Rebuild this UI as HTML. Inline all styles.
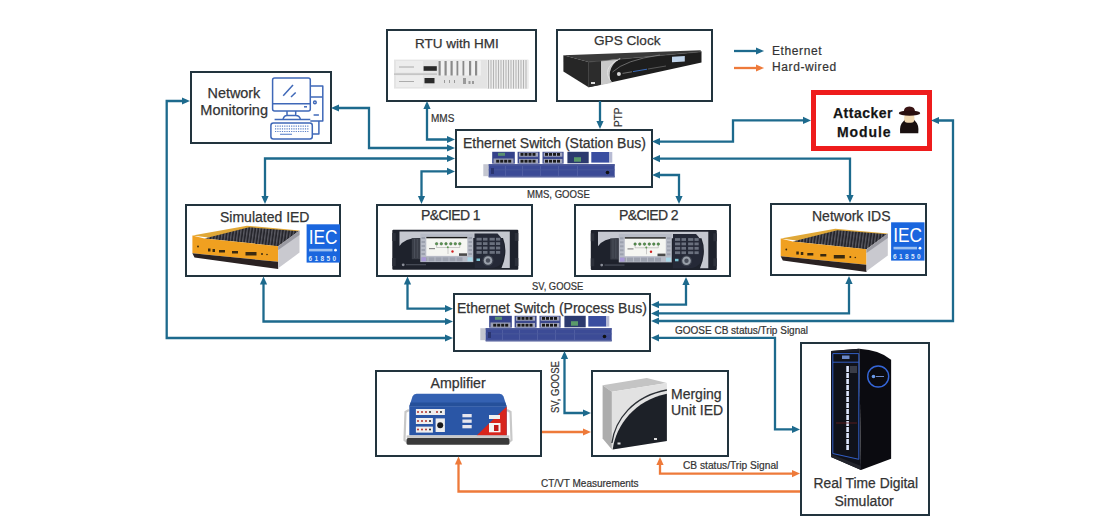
<!DOCTYPE html>
<html><head><meta charset="utf-8">
<style>
html,body{margin:0;padding:0;background:#fff;}
body{width:1100px;height:530px;position:relative;overflow:hidden;font-family:"Liberation Sans",sans-serif;color:#333;}
.box{position:absolute;box-sizing:border-box;border:2px solid #22343e;background:#fff;}
.t{position:absolute;white-space:nowrap;font-size:14px;line-height:1;color:#333;-webkit-text-stroke:0.25px #333;}
.s{position:absolute;white-space:nowrap;font-size:10px;line-height:1;color:#333;-webkit-text-stroke:0.2px #333;}
svg.ov{position:absolute;left:0;top:0;}
</style></head><body><div id="wrap" style="position:absolute;left:0;top:0;width:1100px;height:530px;">

<!-- boxes -->
<div class="box" style="left:190px;top:71px;width:142px;height:73px;"></div>
<div class="box" style="left:386px;top:29px;width:151px;height:73px;"></div>
<div class="box" style="left:556px;top:29px;width:157px;height:73px;"></div>
<div class="box" style="left:811px;top:90px;width:121px;height:61px;border:5px solid #ee1c1c;"></div>
<div class="box" style="left:455px;top:129px;width:198px;height:59px;"></div>
<div class="box" style="left:185px;top:204px;width:156px;height:73px;"></div>
<div class="box" style="left:376px;top:204px;width:157px;height:73px;"></div>
<div class="box" style="left:574px;top:204px;width:157px;height:73px;"></div>
<div class="box" style="left:770px;top:203px;width:157px;height:73px;"></div>
<div class="box" style="left:452.5px;top:292.5px;width:198.5px;height:59px;"></div>
<div class="box" style="left:375px;top:369.5px;width:167px;height:87.5px;"></div>
<div class="box" style="left:591px;top:369.5px;width:138px;height:87.5px;"></div>
<div class="box" style="left:800px;top:342px;width:130px;height:174px;"></div>

<svg class="ov" width="1100" height="530" viewBox="0 0 1100 530">
<g id="arrows">
<path d="M183.00,101.00 L166.70,101.00 L166.70,338.00 L446.00,338.00" fill="none" stroke="#1d6a8d" stroke-width="2.3"/>
<polygon points="190.00,101.00 182.00,104.60 182.00,97.40" fill="#1d6a8d"/>
<polygon points="453.00,338.00 445.00,341.60 445.00,334.40" fill="#1d6a8d"/>
<path d="M338.00,108.00 L369.00,108.00 L369.00,148.00 L448.00,148.00" fill="none" stroke="#1d6a8d" stroke-width="2.3"/>
<polygon points="331.00,108.00 339.00,104.40 339.00,111.60" fill="#1d6a8d"/>
<polygon points="455.00,148.00 447.00,151.60 447.00,144.40" fill="#1d6a8d"/>
<path d="M427.00,108.00 L427.00,139.50 L448.00,139.50" fill="none" stroke="#1d6a8d" stroke-width="2.3"/>
<polygon points="427.00,101.00 430.60,109.00 423.40,109.00" fill="#1d6a8d"/>
<polygon points="455.00,139.50 447.00,143.10 447.00,135.90" fill="#1d6a8d"/>
<path d="M265.00,197.00 L265.00,158.50 L448.00,158.50" fill="none" stroke="#1d6a8d" stroke-width="2.3"/>
<polygon points="265.00,204.00 261.40,196.00 268.60,196.00" fill="#1d6a8d"/>
<polygon points="455.00,158.50 447.00,162.10 447.00,154.90" fill="#1d6a8d"/>
<path d="M421.50,197.00 L421.50,171.40 L448.00,171.40" fill="none" stroke="#1d6a8d" stroke-width="2.3"/>
<polygon points="421.50,204.00 417.90,196.00 425.10,196.00" fill="#1d6a8d"/>
<polygon points="455.00,171.40 447.00,175.00 447.00,167.80" fill="#1d6a8d"/>
<path d="M600.00,101.00 L600.00,122.00" fill="none" stroke="#1d6a8d" stroke-width="2.3"/>
<polygon points="600.00,129.00 596.40,121.00 603.60,121.00" fill="#1d6a8d"/>
<path d="M659.00,141.60 L733.00,141.60 L733.00,120.40 L804.00,120.40" fill="none" stroke="#1d6a8d" stroke-width="2.3"/>
<polygon points="652.00,141.60 660.00,138.00 660.00,145.20" fill="#1d6a8d"/>
<polygon points="811.00,120.40 803.00,124.00 803.00,116.80" fill="#1d6a8d"/>
<path d="M659.00,158.60 L850.00,158.60 L850.00,196.00" fill="none" stroke="#1d6a8d" stroke-width="2.3"/>
<polygon points="652.00,158.60 660.00,155.00 660.00,162.20" fill="#1d6a8d"/>
<polygon points="850.00,203.00 846.40,195.00 853.60,195.00" fill="#1d6a8d"/>
<path d="M659.00,175.00 L679.00,175.00 L679.00,197.00" fill="none" stroke="#1d6a8d" stroke-width="2.3"/>
<polygon points="652.00,175.00 660.00,171.40 660.00,178.60" fill="#1d6a8d"/>
<polygon points="679.00,204.00 675.40,196.00 682.60,196.00" fill="#1d6a8d"/>
<path d="M263.50,283.50 L263.50,321.50 L446.00,321.50" fill="none" stroke="#1d6a8d" stroke-width="2.3"/>
<polygon points="263.50,276.50 267.10,284.50 259.90,284.50" fill="#1d6a8d"/>
<polygon points="453.00,321.50 445.00,325.10 445.00,317.90" fill="#1d6a8d"/>
<path d="M407.50,283.50 L407.50,308.70 L446.00,308.70" fill="none" stroke="#1d6a8d" stroke-width="2.3"/>
<polygon points="407.50,276.50 411.10,284.50 403.90,284.50" fill="#1d6a8d"/>
<polygon points="453.00,308.70 445.00,312.30 445.00,305.10" fill="#1d6a8d"/>
<path d="M686.00,284.00 L686.00,304.70 L658.00,304.70" fill="none" stroke="#1d6a8d" stroke-width="2.3"/>
<polygon points="686.00,277.00 689.60,285.00 682.40,285.00" fill="#1d6a8d"/>
<polygon points="651.00,304.70 659.00,301.10 659.00,308.30" fill="#1d6a8d"/>
<path d="M849.00,283.00 L849.00,313.40 L658.00,313.40" fill="none" stroke="#1d6a8d" stroke-width="2.3"/>
<polygon points="849.00,276.00 852.60,284.00 845.40,284.00" fill="#1d6a8d"/>
<polygon points="651.00,313.40 659.00,309.80 659.00,317.00" fill="#1d6a8d"/>
<path d="M938.00,120.50 L953.00,120.50 L953.00,321.00 L658.00,321.00" fill="none" stroke="#1d6a8d" stroke-width="2.3"/>
<polygon points="931.00,120.50 939.00,116.90 939.00,124.10" fill="#1d6a8d"/>
<polygon points="651.00,321.00 659.00,317.40 659.00,324.60" fill="#1d6a8d"/>
<path d="M658.00,337.80 L775.00,337.80 L775.00,429.40 L793.00,429.40" fill="none" stroke="#1d6a8d" stroke-width="2.3"/>
<polygon points="651.00,337.80 659.00,334.20 659.00,341.40" fill="#1d6a8d"/>
<polygon points="800.00,429.40 792.00,433.00 792.00,425.80" fill="#1d6a8d"/>
<path d="M564.50,358.00 L564.50,413.00 L584.00,413.00" fill="none" stroke="#1d6a8d" stroke-width="2.3"/>
<polygon points="564.50,351.00 568.10,359.00 560.90,359.00" fill="#1d6a8d"/>
<polygon points="591.00,413.00 583.00,416.60 583.00,409.40" fill="#1d6a8d"/>
<path d="M734.00,51.00 L757.00,51.00" fill="none" stroke="#1d6a8d" stroke-width="2.3"/>
<polygon points="764.00,51.00 756.00,54.60 756.00,47.40" fill="#1d6a8d"/>
<path d="M542.00,432.00 L584.00,432.00" fill="none" stroke="#ee7a3a" stroke-width="2.3"/>
<polygon points="591.00,432.00 583.00,435.60 583.00,428.40" fill="#ee7a3a"/>
<path d="M800.00,491.50 L458.50,491.50 L458.50,463.50" fill="none" stroke="#ee7a3a" stroke-width="2.3"/>
<polygon points="458.50,456.50 462.10,464.50 454.90,464.50" fill="#ee7a3a"/>
<path d="M660.00,464.00 L660.00,473.60 L793.00,473.60" fill="none" stroke="#ee7a3a" stroke-width="2.3"/>
<polygon points="660.00,457.00 663.60,465.00 656.40,465.00" fill="#ee7a3a"/>
<polygon points="800.00,473.60 792.00,477.20 792.00,470.00" fill="#ee7a3a"/>
<path d="M734.00,68.00 L757.00,68.00" fill="none" stroke="#ee7a3a" stroke-width="2.3"/>
<polygon points="764.00,68.00 756.00,71.60 756.00,64.40" fill="#ee7a3a"/>
</g>
</svg>


<svg class="ov" width="1100" height="530" viewBox="0 0 1100 530">
<!-- Computer icon -->
<g fill="none" stroke="#3f68b8" stroke-width="1.5" stroke-linejoin="round">
<rect x="272.6" y="78" width="37.7" height="33" rx="2"/>
<line x1="272.6" y1="103.7" x2="310.3" y2="103.7"/>
<line x1="304" y1="106.8" x2="307" y2="106.8"/>
<line x1="293" y1="85" x2="283.2" y2="95.8"/>
<line x1="295.7" y1="92.5" x2="291" y2="97"/>
<path d="M287,111 V115.6 H295.7 V111 M283,119.5 Q284,115.6 287,115.6 M295.7,115.6 Q299.5,115.6 300.4,119.5"/>
<line x1="274.6" y1="119.5" x2="310.3" y2="119.5"/>
<path d="M310.3,85.9 H322.8 V120.9 H310.3"/>
<line x1="310.3" y1="97" x2="322.8" y2="97"/>
<circle cx="314.9" cy="102.4" r="1.3"/>
<line x1="313.6" y1="115" x2="318.9" y2="115"/>
<path d="M318.9,120.9 V134 H312.3"/>
<rect x="270.9" y="122.9" width="41.4" height="16.1" rx="2.5"/>
</g>
<g stroke="#5a80c8" stroke-width="1.2" stroke-dasharray="1.2 1.1">
<line x1="275" y1="126.2" x2="309" y2="126.2"/>
<line x1="275" y1="128.9" x2="309" y2="128.9"/>
<line x1="275" y1="131.5" x2="309" y2="131.5"/>
</g>
<line x1="280" y1="134.3" x2="292" y2="134.3" stroke="#6d8fd0" stroke-width="1.2"/>

<!-- RTU -->
<rect x="394" y="59.6" width="134.4" height="29" fill="#e4e4e4"/>
<rect x="394" y="73.5" width="43" height="1.2" fill="#b8b8b8"/>
<rect x="396" y="61" width="27" height="11.5" fill="#ededed"/>
<rect x="396" y="75.5" width="27" height="11.5" fill="#ededed"/>
<line x1="399" y1="67" x2="414" y2="67" stroke="#9a9a9a" stroke-width="0.8"/>
<line x1="399" y1="81.5" x2="414" y2="81.5" stroke="#9a9a9a" stroke-width="0.8"/>
<rect x="423.6" y="66.2" width="13.2" height="4.6" fill="#2a2a2a"/>
<rect x="424.5" y="78" width="10" height="5.3" fill="#2a2a2a"/>
<rect x="438" y="60.5" width="43" height="15" fill="#f0f0f0"/>
<g fill="#8a8a8a">
<rect x="438.5" y="61" width="2.2" height="14.5"/><rect x="444.5" y="61" width="2.2" height="14.5"/><rect x="450.5" y="61" width="2.2" height="14.5"/><rect x="456.5" y="61" width="1.8" height="14.5"/><rect x="462.5" y="61" width="1.8" height="14.5"/><rect x="469" y="61" width="2.2" height="14.5"/><rect x="475" y="61" width="2.2" height="14.5"/>
</g>
<g fill="#9a9a9a"><rect x="463" y="78" width="3" height="6"/><rect x="468.5" y="81" width="2" height="3"/><rect x="472" y="81" width="2" height="3"/><rect x="444" y="80" width="1" height="3"/><rect x="449" y="80" width="1" height="3"/><rect x="454" y="80" width="1" height="3"/></g>
<rect x="487" y="60" width="41.4" height="28.6" fill="#ececec"/>
<g fill="#b4b4b4">
<rect x="488" y="60" width="1" height="28.6"/><rect x="490.5" y="60" width="1" height="28.6"/><rect x="493" y="60" width="1" height="28.6"/><rect x="495.5" y="60" width="1" height="28.6"/><rect x="498" y="60" width="1" height="28.6"/><rect x="500.5" y="60" width="1" height="28.6"/><rect x="503" y="60" width="1" height="28.6"/><rect x="505.5" y="60" width="1" height="28.6"/><rect x="508" y="60" width="1" height="28.6"/><rect x="510.5" y="60" width="1" height="28.6"/><rect x="513" y="60" width="1" height="28.6"/><rect x="515.5" y="60" width="1" height="28.6"/><rect x="518" y="60" width="1" height="28.6"/><rect x="520.5" y="60" width="1" height="28.6"/><rect x="523" y="60" width="1" height="28.6"/><rect x="525.5" y="60" width="1" height="28.6"/>
</g>

<!-- GPS clock -->
<polygon points="563.4,55.2 700.5,50.2 701.5,51.8 588.6,62" fill="#3a3a3a"/>
<polygon points="563.4,55.2 588.6,62 588.6,87.3 563.4,71.6" fill="#262626"/>
<polygon points="588.6,62 701.5,51.8 701.5,62.5 588.6,87.3" fill="#1e1e1e"/>
<polygon points="588.6,62 600.5,60.5 600.5,85 588.6,87.3" fill="#2c2c2c"/>
<path d="M601,61 L621,58.5 Q606,66 611,83 L601,85 Z" fill="#c9c9c9"/>
<path d="M620,58.7 Q600,68 612,83" fill="none" stroke="#e0e0e0" stroke-width="1"/>
<rect x="672" y="56.7" width="12.8" height="5.5" fill="#c0d4ea" transform="skewY(-3)" transform-origin="672 56.7"/>
<rect x="591" y="82" width="4" height="2" fill="#ddd"/>
<line x1="588.6" y1="62" x2="701.5" y2="51.8" stroke="#5a5a5a" stroke-width="0.6"/>
<path d="M612.5,72 Q625,60 660,55" fill="none" stroke="#8a8a8a" stroke-width="0.7"/>
<circle cx="618.9" cy="74.1" r="2" fill="#d8d8d8"/>
<line x1="622.5" y1="73.4" x2="632" y2="71.8" stroke="#777" stroke-width="0.9"/><line x1="633" y1="71.6" x2="647" y2="69.2" stroke="#3a6ab8" stroke-width="1"/><line x1="648" y1="69" x2="666" y2="66" stroke="#666" stroke-width="0.8"/>

<!-- Station bus switch -->
<defs>
<g id="sw">
<rect x="483.3" y="164.2" width="5.5" height="12" fill="#c4c6d0"/>
<rect x="488.7" y="164.2" width="126" height="13.1" fill="#3c4b96"/>
<g fill="#5866a8"><rect x="505" y="166" width="0.7" height="10"/><rect x="522" y="166" width="0.7" height="10"/><rect x="540" y="166" width="0.7" height="10"/><rect x="558" y="166" width="0.7" height="10"/><rect x="577" y="166" width="0.7" height="10"/></g>
<rect x="488.7" y="164.2" width="126" height="1.5" fill="#4a5898"/>
<rect x="488.7" y="169.5" width="126" height="0.8" fill="#4a5a9a"/>
<rect x="488.7" y="175.8" width="126" height="1.5" fill="#5a66a0"/>
<rect x="491" y="168" width="3" height="6" fill="#2a3570"/>
<circle cx="607.5" cy="172.5" r="1.8" fill="#111"/>
<rect x="492.2" y="151.8" width="22.6" height="11.8" fill="#34428a"/>
<rect x="498" y="152.8" width="7" height="3" fill="#5a9070"/>
<rect x="493.5" y="158.5" width="20" height="5" fill="#9a9eb4"/>
<rect x="517.6" y="151.8" width="22" height="11.8" fill="#3d4a8e"/><rect x="519" y="152.5" width="19" height="4.2" fill="#a4a8bc"/><rect x="519" y="159" width="19" height="4.2" fill="#a4a8bc"/>
<rect x="542.5" y="151.8" width="21.1" height="11.8" fill="#3d4a8e"/><rect x="543.7" y="152.5" width="18.7" height="4.2" fill="#a4a8bc"/><rect x="543.7" y="159" width="18.7" height="4.2" fill="#a4a8bc"/>
<g fill="#1a1a1a">
<rect x="496.2" y="159.8" width="3" height="2.8"/><rect x="500.2" y="159.8" width="3" height="2.8"/><rect x="504.2" y="159.8" width="3" height="2.8"/><rect x="508.2" y="159.8" width="3" height="2.8"/>
<rect x="520.5" y="153" width="3" height="2.8"/><rect x="524.5" y="153" width="3" height="2.8"/><rect x="528.5" y="153" width="3" height="2.8"/><rect x="532.5" y="153" width="3" height="2.8"/>
<rect x="520.5" y="159.8" width="3" height="2.8"/><rect x="524.5" y="159.8" width="3" height="2.8"/><rect x="528.5" y="159.8" width="3" height="2.8"/><rect x="532.5" y="159.8" width="3" height="2.8"/>
<rect x="545" y="153" width="3" height="2.8"/><rect x="549" y="153" width="3" height="2.8"/><rect x="553" y="153" width="3" height="2.8"/><rect x="557" y="153" width="3" height="2.8"/>
<rect x="545" y="159.8" width="3" height="2.8"/><rect x="549" y="159.8" width="3" height="2.8"/><rect x="553" y="159.8" width="3" height="2.8"/><rect x="557" y="159.8" width="3" height="2.8"/>
</g>
<rect x="567.4" y="151.8" width="21.3" height="11.5" fill="#2c3a6e"/>
<rect x="574" y="157.2" width="7" height="4.5" fill="#5a9a6a"/>
<rect x="591.3" y="152" width="18.1" height="10.6" fill="#3a4ea0"/>
<rect x="609.4" y="152" width="2.9" height="10.6" fill="#b8bcd4"/>
</g>
</defs>
<use href="#sw"/>
<use href="#sw" transform="translate(-3,164)"/>
</svg>

<svg class="ov" width="1100" height="530" viewBox="0 0 1100 530">
<defs>
<linearGradient id="fins" x1="0" y1="0" x2="1" y2="0"><stop offset="0" stop-color="#2b2b30"/><stop offset="1" stop-color="#45454c"/></linearGradient>
<pattern id="finp" width="3.1" height="10" patternUnits="userSpaceOnUse" patternTransform="skewX(-8)"><rect width="3.1" height="10" fill="#26262c"/><rect width="1.3" height="10" fill="#5a5a62"/></pattern>
</defs>
<!-- Simulated IED orange box -->
<g id="obox">
<polygon points="192.4,235.6 247,225.7 299.5,230.6 278.2,246.2" fill="#e0a838"/>
<polygon points="204.4,238.4 249,227.3 299.5,231.2 278.2,246.2" fill="url(#finp)"/>
<polygon points="192.4,235.6 204.4,238.4 278.2,246.2 278.2,261.8 192.4,253.3" fill="#f0a020"/>
<polygon points="192.4,253.3 278.2,261.8 278.2,269 194.5,257.6" fill="#2a2222"/>
<polygon points="278.2,246.2 299.5,230.6 299.5,252.6 278.2,268.2" fill="#c9c9cf"/>
<polygon points="278.2,246.2 299.5,230.6 299.5,235 278.2,250" fill="#9a9aa2"/>
<g fill="#3a2a10">
<rect x="208" y="248.5" width="2.5" height="3"/><rect x="212.5" y="249" width="2.5" height="3"/>
<rect x="219" y="250" width="6" height="2.5"/><rect x="232" y="251" width="6" height="2.5"/>
<rect x="245.5" y="252" width="11" height="3.5"/>
<circle cx="262" cy="254" r="1"/><circle cx="267" cy="254.5" r="0.8"/>
<circle cx="198" cy="246.5" r="0.9"/>
</g>
</g>
<use href="#obox" transform="translate(588.3,3)"/>
<!-- IEC logos -->
<g id="iec">
<rect x="306.6" y="224.3" width="33.4" height="38.3" fill="#1a66de"/>
<text x="308.8" y="244.3" font-family="Liberation Sans" font-size="19.5" fill="#fff" textLength="28.8" lengthAdjust="spacingAndGlyphs">IEC</text>
<rect x="309" y="248.8" width="23.5" height="2.6" fill="#9cc0f0"/>
<circle cx="335.5" cy="250.2" r="1.4" fill="#fff"/>
<text x="308.5" y="260.8" font-family="Liberation Sans" font-size="6.5" font-weight="bold" fill="#dce8fb" textLength="27.5" lengthAdjust="spacing">61850</text>
</g>
<use href="#iec" transform="translate(584.5,-2)"/>

<!-- P&C IED -->
<g id="pcied">
<rect x="392.3" y="229.7" width="126" height="40" rx="1" fill="#1e222c"/>
<rect x="392.3" y="233" width="3.5" height="8" fill="#2c303a"/><rect x="392.3" y="258" width="3.5" height="8" fill="#2c303a"/>
<rect x="514.8" y="233" width="3.5" height="8" fill="#2c303a"/><rect x="514.8" y="258" width="3.5" height="8" fill="#2c303a"/>
<path d="M399.5,231.5 H509.8 V268 H501.5 Q508.5,252 503,238 L418,238 Q405,238 399.5,246 Z" fill="#c5c8d0"/>
<rect x="411.8" y="238.2" width="8.2" height="21" fill="#3a3e48"/>
<line x1="414.5" y1="239" x2="414.5" y2="258" stroke="#555a66" stroke-width="0.6"/>
<line x1="417.3" y1="239" x2="417.3" y2="258" stroke="#555a66" stroke-width="0.6"/>
<rect x="420.3" y="233.6" width="53" height="28.6" fill="#b7bbc6"/>
<g fill="#9ca1ae"><rect x="421.5" y="237" width="3.5" height="2"/><rect x="421.5" y="241" width="3.5" height="2"/><rect x="421.5" y="245" width="3.5" height="2"/><rect x="421.5" y="249" width="3.5" height="2"/><rect x="421.5" y="253" width="3.5" height="2"/>
<rect x="468.5" y="237" width="3.5" height="2"/><rect x="468.5" y="241" width="3.5" height="2"/><rect x="468.5" y="245" width="3.5" height="2"/><rect x="468.5" y="249" width="3.5" height="2"/><rect x="468.5" y="253" width="3.5" height="2"/></g>
<rect x="426.3" y="236.9" width="41" height="19" fill="#f5f6f2"/>
<rect x="426.3" y="236.9" width="41" height="1.4" fill="#1a1a1a"/>
<g fill="#9ca1ae"><rect x="421.5" y="257.3" width="6" height="4"/><rect x="428.5" y="257.3" width="6" height="4"/><rect x="435.5" y="257.3" width="6" height="4"/><rect x="442.5" y="257.3" width="6" height="4"/><rect x="449.5" y="257.3" width="6" height="4"/><rect x="456.5" y="257.3" width="6" height="4"/></g>
<rect x="421.5" y="257.3" width="4.5" height="4" fill="#a898d8"/>
<rect x="467.5" y="257.3" width="5" height="4" fill="#a8d8e8"/>
<g fill="#5a9a50" stroke="#2a4a2a" stroke-width="0.4"><circle cx="436.6" cy="243.8" r="1.3"/><circle cx="441.3" cy="243.8" r="1.3"/><circle cx="446" cy="243.8" r="1.3"/><circle cx="450.8" cy="243.8" r="1.3"/><circle cx="455.3" cy="243.8" r="1.3"/><circle cx="459.8" cy="243.8" r="1.3"/></g>
<path d="M436.6,245.5 V247.5 H459.8 V245.5 M448,247.5 V254" fill="none" stroke="#888" stroke-width="0.4"/>
<circle cx="447.8" cy="247.3" r="1" fill="#5a9a50"/>
<rect x="429" y="248" width="6" height="1.2" fill="#888"/>
<circle cx="452.5" cy="251.5" r="1.2" fill="#d02020"/>
<rect x="459" y="253.3" width="8" height="2.6" fill="#4a4a4a"/>
<path d="M474.5,233.6 H497.5 Q508.5,244 502,262.5 Q498,268 490,268 H474.5 Z" fill="#252937"/>
<g fill="#6a707e"><rect x="476.5" y="237.8" width="5.2" height="2.8"/><rect x="483" y="237.8" width="4.5" height="2.8"/><rect x="489.6" y="237.8" width="5.2" height="2.8"/><rect x="496" y="237.8" width="4.2" height="2.8"/>
<rect x="476.5" y="242.2" width="5.2" height="2.8"/><rect x="483" y="242.2" width="4.5" height="2.8"/><rect x="489.6" y="242.2" width="5.2" height="2.8"/><rect x="496" y="242.2" width="4.2" height="2.8"/>
<rect x="476.5" y="246.6" width="5.2" height="2.8"/><rect x="483" y="246.6" width="4.5" height="2.8"/><rect x="489.6" y="246.6" width="5.2" height="2.8"/><rect x="496" y="246.6" width="4.2" height="2.8"/>
<rect x="476.5" y="251" width="5.2" height="2.8"/><rect x="483" y="251" width="4.5" height="2.8"/><rect x="489.6" y="251" width="5.2" height="2.8"/><rect x="496" y="251" width="4.2" height="2.8"/></g>
<rect x="476.5" y="258.5" width="3.5" height="2.5" fill="#7ac0d0"/>
<circle cx="488" cy="260.5" r="5.5" fill="#3c414e"/><circle cx="488" cy="260.5" r="4.3" fill="#9aa0aa"/><circle cx="488" cy="260.5" r="2.2" fill="#4a4f5c"/>
<rect x="399.5" y="262.5" width="75" height="6" fill="#1e222c"/>
<circle cx="403.2" cy="264.8" r="1.4" fill="#8a8e98"/>
<rect x="406" y="264.3" width="20" height="0.9" fill="#555a66"/>
</g>
<use href="#pcied" transform="translate(198.5,0.3)"/>

<!-- Amplifier -->
<g>
<path d="M409,410 L405.5,412 L404.5,440 L408,443" fill="none" stroke="#c8c8c8" stroke-width="2.2"/>
<path d="M507,410 L510.5,412 L511.5,440 L508,443" fill="none" stroke="#c8c8c8" stroke-width="2.2"/>
<path d="M409.3,406.4 L412.5,396.5 Q413.5,393.8 416.5,393.8 L499.5,393.8 Q502.5,393.8 503.5,396.5 L506.7,406.4 Z" fill="#3461b2"/>
<polygon points="410.5,402.5 505.3,402.5 506.7,406.4 409.3,406.4" fill="#25509a"/>
<rect x="409.3" y="406.4" width="97.4" height="29" fill="#2a56a6"/>
<polygon points="476.6,435.4 506.7,406.4 506.7,435.4" fill="#d8251c"/>
<rect x="415.9" y="409" width="29" height="6" fill="#eee"/>
<rect x="415.9" y="418" width="17" height="6" fill="#eee"/>
<rect x="415.9" y="426.6" width="17" height="6" fill="#eee"/>
<g fill="#b0302a"><circle cx="418" cy="412" r="1"/><circle cx="422" cy="412" r="1"/><circle cx="426" cy="412" r="1"/><circle cx="437" cy="412" r="1"/>
<circle cx="418" cy="421" r="1"/><circle cx="422" cy="421" r="1"/><circle cx="426" cy="421" r="1"/>
<circle cx="418" cy="429.6" r="1"/><circle cx="422" cy="429.6" r="1"/><circle cx="426" cy="429.6" r="1"/></g>
<g fill="#222"><circle cx="430" cy="412" r="1"/><circle cx="441" cy="412" r="1"/><circle cx="430" cy="421" r="1"/><circle cx="430" cy="429.6" r="1"/></g>
<rect x="435.6" y="418.4" width="9.3" height="13.6" fill="#eee"/>
<circle cx="440.2" cy="425.2" r="3" fill="#1a1a1a"/>
<rect x="462.4" y="414" width="9.3" height="3.3" fill="#e6e6ee"/>
<rect x="462.4" y="419.5" width="9.3" height="3.3" fill="#e6e6ee"/>
<rect x="462.4" y="425" width="9.3" height="3.3" fill="#e6e6ee"/>
<rect x="489" y="415" width="11" height="4" fill="#f0f0f0"/>
<rect x="489" y="423" width="11.5" height="9.3" fill="#f4f4f4"/>
<rect x="494" y="425" width="4.5" height="6" fill="#c01818"/>
<rect x="406.6" y="435.4" width="102.8" height="2.5" fill="#c8c8c8"/>
<rect x="406.6" y="437.9" width="102.8" height="6.8" rx="1.5" fill="#3a3a3a"/>
</g>

<!-- Merging unit -->
<g>
<polygon points="602.6,385.2 646.8,377.9 666.9,383.1 611.9,391.8" fill="#c4c4c4"/>
<polygon points="602.6,385.2 611.9,391.8 611.9,449.4 602.6,438.6" fill="#adadad"/>
<polygon points="611.9,391.8 666.9,383.1 666.9,440.9 611.9,449.4" fill="#e2e2e2"/>
<path d="M612.7,449.4 C616,425 635,400 666.9,393.7 L666.9,440.9 Z" fill="#1d2128"/>
<path d="M611.9,443 C615,420 633,396 666.9,390" fill="none" stroke="#2a2e34" stroke-width="1.3"/>
<rect x="617.5" y="442.5" width="3" height="2" fill="#ddd"/><rect x="654" y="438" width="3" height="2" fill="#ddd"/>
</g>

<!-- RTDS cabinet -->
<g>
<path d="M859.2,348.7 Q880,350 891.1,359.7 L891.1,458.7 L861,470 Z" fill="#0b0b10"/>
<polygon points="831,351.1 859.2,348.7 861,470 831,457" fill="#10121a"/>
<polygon points="831,351.1 859.2,348.7 859.2,351.5 831,353" fill="#1a1c26"/>
<path d="M832.8,353.6 H858.8 V459.3 L832.8,453.5 Z" fill="none" stroke="#3566d8" stroke-width="0.9"/>
<line x1="832.8" y1="362.2" x2="858.8" y2="362.2" stroke="#3566d8" stroke-width="0.9"/>
<polygon points="831,457 861,470 861,466 831,454" fill="#22242c"/>
<rect x="842" y="355.5" width="7.5" height="3.5" fill="#6a88c8"/>
<rect x="846.3" y="366" width="2.6" height="84" fill="#dfe8ff" />
<g fill="#10121a"><rect x="846" y="372" width="3.5" height="1"/><rect x="846" y="378" width="3.5" height="1"/><rect x="846" y="384" width="3.5" height="1"/><rect x="846" y="390" width="3.5" height="1"/><rect x="846" y="396" width="3.5" height="1"/><rect x="846" y="402" width="3.5" height="1"/><rect x="846" y="408" width="3.5" height="1"/><rect x="846" y="414" width="3.5" height="1"/><rect x="846" y="420" width="3.5" height="1"/><rect x="846" y="426" width="3.5" height="1"/><rect x="846" y="432" width="3.5" height="1"/><rect x="846" y="438" width="3.5" height="1"/><rect x="846" y="444" width="3.5" height="1"/></g>
<rect x="850" y="366" width="7" height="7" fill="#3a3d48"/>
<line x1="836" y1="423" x2="857" y2="423" stroke="#6a2020" stroke-width="0.8"/>
<circle cx="878.2" cy="376.5" r="10.5" fill="none" stroke="#3566d8" stroke-width="1.4"/>
<circle cx="873.5" cy="376.5" r="1.8" fill="#6a9ae8"/>
<line x1="876" y1="376.5" x2="884" y2="376.5" stroke="#6a88c8" stroke-width="1"/>
</g>

<!-- Spy -->
<g>
<path d="M900.1,133.3 Q899.3,124.5 903.5,121.3 L905.2,119.3 L913.6,119.3 L915.3,121.3 Q919.2,124.5 918.3,133.3 Z" fill="#1a1010"/>
<rect x="904.2" y="114" width="10.2" height="8.8" rx="3.5" fill="#f2d9b2"/>
<path d="M903.8,112.6 Q903.4,106.6 909.4,106.5 Q915.4,106.6 915,112.6 Z" fill="#3a1515"/>
<ellipse cx="909.5" cy="113.2" rx="10.7" ry="2.6" fill="#2a0f0f"/>
</g>
</svg>

<!-- titles -->
<div class="t" style="left:207.5px;top:86px;font-size:14.4px;">Network</div>
<div class="t" style="left:200.3px;top:103px;font-size:14.5px;">Monitoring</div>
<div class="t" style="left:415px;top:37px;font-size:13.5px;">RTU with HMI</div>
<div class="t" style="left:594px;top:33.5px;font-size:13.6px;">GPS Clock</div>
<div class="t" style="left:463px;top:136px;">Ethernet Switch (Station Bus)</div>
<div class="t" style="left:220px;top:210px;">Simulated IED</div>
<div class="t" style="left:421px;top:208px;letter-spacing:-0.6px;">P&amp;CIED 1</div>
<div class="t" style="left:619px;top:208px;letter-spacing:-0.6px;">P&amp;CIED 2</div>
<div class="t" style="left:812px;top:209px;">Network IDS</div>
<div class="t" style="left:457px;top:301px;">Ethernet Switch (Process Bus)</div>
<div class="t" style="left:430.5px;top:376px;font-size:14.2px;">Amplifier</div>
<div class="t" style="left:671px;top:386.5px;">Merging</div>
<div class="t" style="left:671px;top:403px;">Unit IED</div>
<div class="t" style="left:813.5px;top:477px;font-size:13.85px;">Real Time Digital</div>
<div class="t" style="left:834.5px;top:494px;">Simulator</div>
<div class="t" style="left:833px;top:106px;font-weight:bold;color:#111;letter-spacing:0.5px;">Attacker</div>
<div class="t" style="left:837px;top:124.5px;font-weight:bold;color:#111;letter-spacing:0.9px;">Module</div>

<!-- small labels -->
<div class="s" style="left:431px;top:114px;">MMS</div>
<div class="s" style="left:526.5px;top:190px;font-size:10.3px;transform:scaleX(0.93);transform-origin:0 0;">MMS, GOOSE</div>
<div class="s" style="left:531.5px;top:282px;font-size:10.2px;transform:scaleX(0.92);transform-origin:0 0;">SV, GOOSE</div>
<div class="s" style="left:675px;top:326px;">GOOSE CB status/Trip Signal</div>
<div class="s" style="left:683px;top:461px;font-size:10.2px;">CB status/Trip Signal</div>
<div class="s" style="left:541px;top:479px;">CT/VT Measurements</div>
<div class="s" style="left:772px;top:45px;font-size:12px;letter-spacing:0.6px;color:#333;">Ethernet</div>
<div class="s" style="left:772px;top:61px;font-size:12px;letter-spacing:0.6px;color:#333;">Hard-wired</div>
<div class="s" style="left:614px;top:126.5px;transform:rotate(-90deg);transform-origin:0 0;">PTP</div>
<div class="s" style="left:550.5px;top:413px;font-size:10.2px;transform:rotate(-90deg) scaleX(0.93);transform-origin:0 0;">SV, GOOSE</div>

</div></body></html>
